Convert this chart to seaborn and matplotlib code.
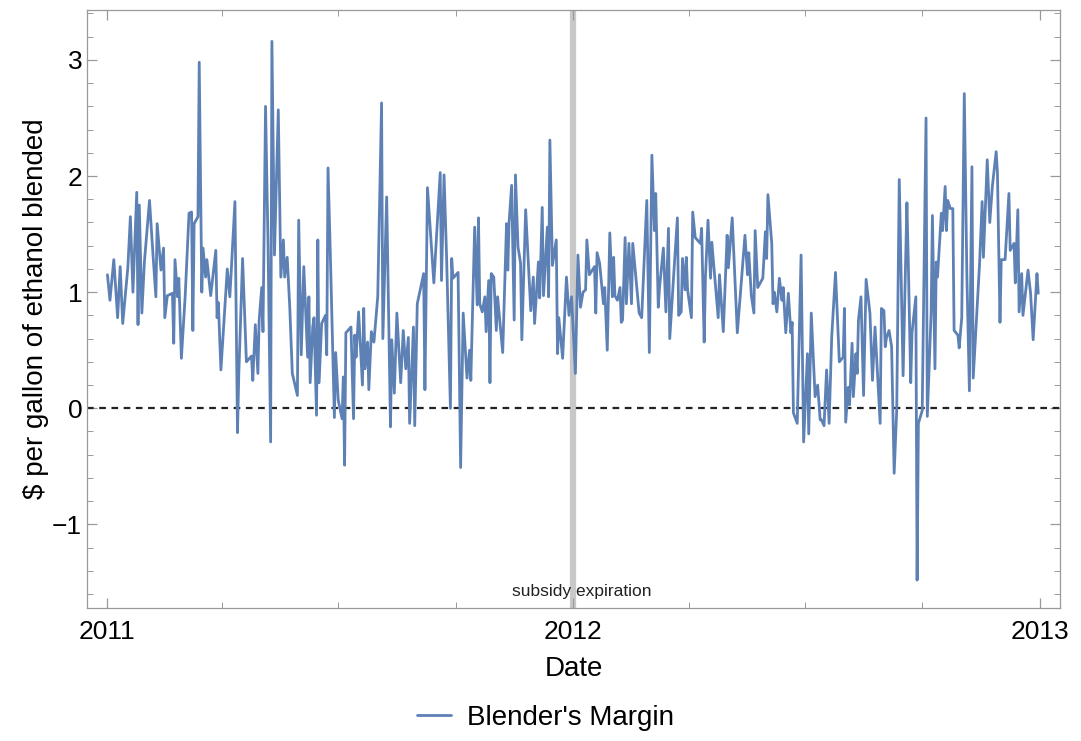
import matplotlib
matplotlib.use("Agg")
import matplotlib.pyplot as plt
import matplotlib.dates as mdates
from matplotlib.ticker import MultipleLocator
import pandas as pd
import seaborn as sns

# days since 2011-01-01 and blender's margin ($/gal)
start_date = "2011-01-01"
days = [
    0, 2, 5, 8, 10, 12, 16, 18, 20, 23, 24, 25, 27, 29, 31, 33, 36, 38, 39, 42,
    44, 45, 47, 51, 52, 53, 55, 56, 58, 61, 64, 66, 67, 68, 71, 72, 74, 75, 77, 78,
    81, 85, 86, 87, 89, 94, 96, 97, 100, 102, 103, 106, 109, 113, 114, 116, 118, 119, 121, 122,
    124, 126, 128, 129, 131, 134, 136, 138, 139, 141, 143, 145, 149, 150, 152, 154, 157, 158, 159, 161,
    162, 164, 165, 166, 168, 171, 172, 173, 175, 178, 179, 181, 184, 185, 186, 187, 191, 193, 194, 195,
    197, 200, 201, 202, 204, 205, 207, 209, 212, 215, 216, 219, 222, 223, 225, 227, 230, 232, 234, 236,
    237, 240, 241, 243, 248, 249, 251, 256, 261, 262, 264, 266, 269, 270, 271, 275, 277, 279, 282, 284,
    285, 288, 290, 291, 292, 294, 296, 297, 299, 300, 301, 303, 305, 306, 310, 313, 314, 315, 317, 319,
    320, 322, 324, 325, 328, 332, 334, 335, 338, 339, 341, 342, 345, 346, 347, 349, 352, 353, 354, 357,
    360, 362, 364, 367, 369, 371, 373, 375, 376, 378, 382, 383, 384, 386, 389, 390, 392, 394, 396, 397,
    398, 400, 402, 403, 404, 406, 407, 409, 411, 412, 417, 419, 423, 425, 427, 429, 430, 432, 433, 436,
    438, 440, 441, 444, 447, 448, 450, 451, 453, 454, 455, 458, 459, 461, 465, 466, 468, 469, 471, 473,
    474, 479, 480, 483, 486, 487, 490, 494, 500, 502, 503, 505, 507, 508, 510, 514, 516, 517, 518, 521,
    522, 523, 525, 527, 529, 530, 532, 534, 536, 537, 538, 541, 544, 546, 549, 550, 552, 555, 557, 559,
    560, 562, 564, 566, 568, 571, 574, 577, 578, 579, 581, 582, 584, 585, 587, 588, 589, 591, 593, 595,
    598, 600, 602, 606, 607, 609, 610, 611, 613, 615, 617, 619, 621, 624, 627, 628, 630, 631, 634, 635,
    636, 639, 642, 643, 646, 647, 649, 650, 651, 654, 655, 657, 658, 659, 661, 663, 664, 667, 668, 670,
    672, 674, 676, 678, 679, 684, 686, 687, 690, 692, 694, 697, 698, 700, 701, 704, 707, 708, 711, 712,
    714, 715, 717, 718, 722, 724, 726, 729, 730,
]
margin = [
    1.15, 0.93, 1.28, 0.78, 1.22, 0.73, 1.21, 1.65, 1.00, 1.86, 0.72, 1.75, 0.82, 1.26, 1.52, 1.79, 1.28, 0.96, 1.59, 1.19,
    1.38, 0.78, 0.97, 0.99, 0.56, 1.28, 0.96, 1.12, 0.43, 0.97, 1.68, 1.69, 0.67, 1.59, 1.65, 2.98, 1.00, 1.38, 1.13, 1.28,
    0.97, 1.36, 0.78, 0.91, 0.33, 1.20, 0.96, 1.16, 1.78, -0.21, 0.28, 1.29, 0.40, 0.45, 0.24, 0.72, 0.30, 0.76, 1.04, 0.66,
    2.60, 1.39, -0.29, 3.16, 1.32, 2.57, 1.13, 1.45, 1.13, 1.30, 0.87, 0.30, 0.11, 1.62, 0.46, 1.22, 0.44, 0.96, 0.22, 0.70,
    0.78, -0.06, 1.45, 0.22, 0.73, 0.80, 0.46, 2.07, 1.25, -0.08, 0.48, 0.07, -0.09, 0.27, -0.49, 0.65, 0.70, -0.09, 0.63, 0.44,
    0.83, 0.20, 0.86, 0.34, 0.57, 0.16, 0.66, 0.57, 0.96, 2.63, 0.60, 1.82, -0.16, 0.59, 0.13, 0.82, 0.22, 0.67, 0.34, 0.61,
    -0.13, 0.70, -0.15, 0.90, 1.16, 0.16, 1.90, 1.08, 2.03, 1.10, 2.01, 1.30, 0.00, 1.29, 1.12, 1.17, -0.51, 0.82, 0.26, 0.50,
    0.24, 1.56, 0.89, 1.64, 0.90, 0.83, 0.96, 0.66, 1.10, 0.22, 1.16, 1.13, 0.67, 0.96, 0.48, 1.59, 1.19, 1.60, 1.92, 0.76,
    2.01, 1.39, 1.25, 0.59, 1.71, 0.84, 1.13, 0.73, 1.26, 0.95, 1.73, 0.97, 1.56, 0.96, 2.31, 1.23, 1.45, 0.47, 0.78, 0.43,
    1.13, 0.80, 0.96, 0.30, 1.32, 0.87, 1.00, 1.02, 1.45, 1.15, 1.22, 0.82, 1.34, 1.25, 0.90, 1.04, 0.50, 1.51, 0.96, 1.30,
    0.97, 0.93, 1.04, 0.74, 0.76, 1.47, 0.90, 1.42, 0.90, 1.42, 0.82, 0.78, 1.79, 0.48, 2.18, 1.53, 1.85, 0.87, 1.04, 1.38,
    0.83, 1.55, 0.60, 1.13, 1.64, 0.80, 0.83, 1.29, 1.02, 1.30, 1.02, 0.78, 1.69, 1.47, 1.42, 1.55, 0.57, 1.13, 1.62, 1.12,
    1.43, 0.78, 1.15, 0.66, 1.49, 1.21, 1.64, 0.65, 1.49, 1.15, 1.34, 0.97, 0.82, 1.53, 1.04, 1.12, 1.52, 1.29, 1.84, 1.42,
    0.90, 1.00, 0.83, 1.12, 0.93, 1.04, 0.65, 0.99, 0.65, 0.74, -0.04, -0.13, 1.32, -0.29, 0.47, -0.22, 0.82, 0.10, 0.20, -0.10,
    -0.10, -0.15, 0.33, -0.13, 0.61, 1.17, 0.40, 0.44, 0.86, -0.12, 0.18, 0.03, 0.56, 0.10, 0.47, 0.30, 0.76, 0.96, 0.11, 1.11,
    0.82, 0.24, 0.70, -0.13, 0.86, 0.84, 0.53, 0.61, 0.67, 0.53, -0.56, -0.02, 1.97, 0.28, 1.77, 1.30, 0.22, 0.65, 0.96, -1.48,
    -0.13, -0.02, 2.50, -0.07, 0.82, 1.66, 0.34, 1.26, 1.13, 1.68, 1.53, 1.91, 1.53, 1.79, 1.72, 1.72, 0.67, 0.63, 0.52, 0.78,
    2.71, 1.16, 0.15, 2.08, 0.26, 1.25, 1.78, 1.30, 2.14, 1.60, 1.91, 2.21, 2.03, 0.74, 1.28, 1.28, 1.85, 1.36, 1.42, 1.08,
    1.71, 0.83, 1.16, 0.80, 1.19, 0.99, 0.59, 1.16, 0.99,
]
subsidy_end = "2012-01-01"
year_ticks = ["2011-01-01", "2012-01-01", "2013-01-01"]
year_labels = ["2011", "2012", "2013"]
y_ticks = [-1, 0, 1, 2, 3]
y_labels = ["\u22121", "0", "1", "2", "3"]

df = pd.DataFrame({
    "Date": pd.to_datetime(start_date) + pd.to_timedelta(days, unit="D"),
    "Margin": margin,
})

sns.set_theme(style="white")
plt.rcParams["font.family"] = ["Liberation Sans", "DejaVu Sans"]
plt.rcParams["text.color"] = "black"
plt.rcParams["axes.labelcolor"] = "black"

fig = plt.figure(figsize=(10.81, 7.41), dpi=100)
ax = fig.add_axes([0.0805, 0.1795, 0.900, 0.807])

line_color = "#5e81b5"
sns.lineplot(data=df, x="Date", y="Margin", ax=ax, color=line_color,
             linewidth=2.0, label="Blender's Margin", legend=False)

ax.axhline(0, color="#222222", linestyle=(0, (3, 2.5)), linewidth=1.6, zorder=1)
ax.axvline(pd.Timestamp(subsidy_end), color="#c8c8c8", linewidth=4.5, zorder=0)
ax.text(pd.Timestamp(subsidy_end) + pd.Timedelta(days=7), -1.58, "subsidy expiration",
        ha="center", va="center", fontsize=12.5, color="#222222")

ax.set_xlim(pd.Timestamp(start_date) - pd.Timedelta(days=16), pd.Timestamp("2013-01-17"))
ax.set_ylim(-1.72, 3.43)

ax.set_xticks(pd.to_datetime(year_ticks))
ax.set_xticklabels(year_labels)
ax.xaxis.set_minor_locator(mdates.MonthLocator(bymonth=[4, 7, 10]))
ax.set_yticks(y_ticks)
ax.set_yticklabels(y_labels)
ax.yaxis.set_minor_locator(MultipleLocator(0.2))

ax.tick_params(which="both", direction="in", top=True, right=True, bottom=True, left=True,
               color="#999999", labelsize=19, labelcolor="black")
ax.tick_params(which="major", length=7, width=0.9)
ax.tick_params(which="minor", length=4, width=0.7)
ax.tick_params(axis="x", pad=9)
for side in ax.spines.values():
    side.set_color("#999999")
    side.set_linewidth(0.9)

ax.set_xlabel("Date", fontsize=20, labelpad=8, color="black")
ax.set_ylabel("$ per gallon of ethanol blended", fontsize=20, labelpad=2, color="black")

leg = fig.legend(handles=ax.get_lines()[:1], labels=["Blender's Margin"], loc="center",
                 bbox_to_anchor=(0.505, 0.031), frameon=False, fontsize=20,
                 handlelength=1.2, handletextpad=0.6)
for t in leg.get_texts():
    t.set_color("black")

fig.savefig("out.png", dpi=100)
